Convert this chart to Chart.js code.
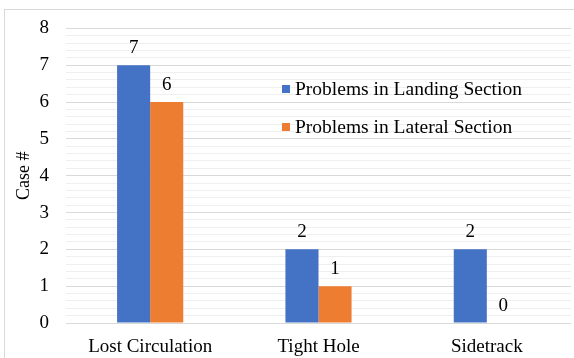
<!DOCTYPE html>
<html>
<head>
<meta charset="utf-8">
<script src="https://cdn.jsdelivr.net/npm/chart.js@4"></script>
<style>
  html, body { margin: 0; padding: 0; background: #fff; }
  #wrap { position: relative; width: 574px; height: 358px; overflow: hidden; }
  #frame { position: absolute; left: 4px; top: 9px; width: 600px; height: 400px; border: 1px solid #d9d9d9; }
  canvas { position: absolute; left: 0; top: 0; }
</style>
</head>
<body>
<div id="wrap">
  <div id="frame"></div>
  <canvas id="chart" width="574" height="358"></canvas>
</div>
<script>
const categories = ['Lost Circulation', 'Tight Hole', 'Sidetrack'];
const landing = [7, 2, 2];
const lateral = [6, 1, 0];
const seriesNames = ['Problems in Landing Section', 'Problems in Lateral Section'];
const yTicks = [0, 1, 2, 3, 4, 5, 6, 7, 8];

const FONT = '"Liberation Serif", "Times New Roman", serif';
const BLUE = '#4472C4';
const ORANGE = '#ED7D31';

const isMajor = v => Math.abs(v - Math.round(v)) < 1e-6;

// value labels above each bar
const valueLabels = {
    id: 'valueLabels',
    afterDatasetsDraw(chart) {
        const ctx = chart.ctx;
        ctx.save();
        ctx.font = '19px ' + FONT;
        ctx.fillStyle = '#000';
        ctx.textAlign = 'center';
        ctx.textBaseline = 'middle';
        chart.data.datasets.forEach((ds, i) => {
            chart.getDatasetMeta(i).data.forEach((bar, j) => {
                ctx.fillText(String(ds.data[j]), bar.x, bar.y - 17);
            });
        });
        ctx.restore();
    }
};

// legend drawn inside the plot area
const innerLegend = {
    id: 'innerLegend',
    afterDatasetsDraw(chart) {
        const ctx = chart.ctx;
        ctx.save();
        ctx.font = '19.5px ' + FONT;
        ctx.textBaseline = 'middle';
        const rows = [89, 127];
        chart.data.datasets.forEach((ds, i) => {
            ctx.fillStyle = ds.backgroundColor;
            ctx.fillRect(282, rows[i] - 4, 8, 8);
            ctx.fillStyle = '#000';
            ctx.fillText(ds.label, 295, rows[i] + 1);
        });
        ctx.restore();
    }
};

new Chart(document.getElementById('chart').getContext('2d'), {
    type: 'bar',
    data: {
        labels: categories,
        datasets: [
            { label: seriesNames[0], data: landing, backgroundColor: BLUE },
            { label: seriesNames[1], data: lateral, backgroundColor: ORANGE }
        ]
    },
    options: {
        responsive: false,
        animation: false,
        layout: { padding: { top: 25, right: 3, left: 0, bottom: 0 } },
        datasets: {
            bar: { barPercentage: 1, categoryPercentage: 0.393 }
        },
        plugins: {
            legend: { display: false },
            tooltip: { enabled: false }
        },
        scales: {
            x: {
                grid: { display: false, drawTicks: false },
                border: { display: false },
                ticks: { color: '#000', font: { family: FONT, size: 19 }, padding: 13 },
                afterFit(scale) { scale.height = 35; }
            },
            y: {
                min: yTicks[0],
                max: yTicks[yTicks.length - 1],
                ticks: {
                    stepSize: 0.2,
                    autoSkip: false,
                    color: '#000',
                    font: { family: FONT, size: 19 },
                    padding: 17,
                    callback: v => isMajor(v) && yTicks.includes(Math.round(v)) ? String(Math.round(v)) : ''
                },
                grid: {
                    drawTicks: false,
                    color: ctx => isMajor(ctx.tick.value) ? '#d9d9d9' : '#efefef',
                    lineWidth: 1
                },
                border: { display: false },
                title: {
                    display: true,
                    text: 'Case #',
                    color: '#000',
                    font: { family: FONT, size: 18 },
                    padding: { top: 13, bottom: 0 }
                },
                afterFit(scale) { scale.width = 66; }
            }
        }
    },
    plugins: [valueLabels, innerLegend]
});
</script>
</body>
</html>
